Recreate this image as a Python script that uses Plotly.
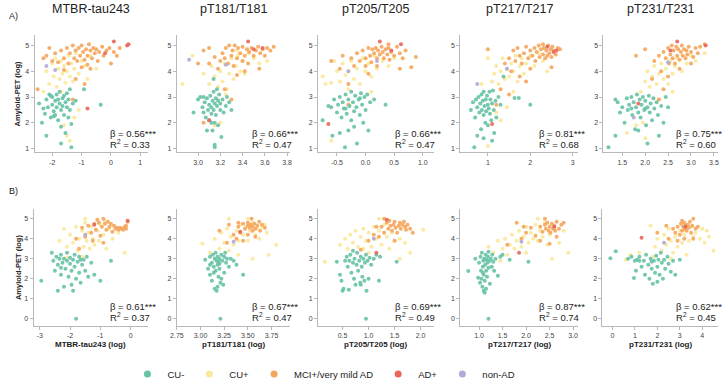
import plotly.graph_objects as go

W, H = 722, 389

groups = ["CU-", "CU+", "MCI+/very mild AD", "AD+", "non-AD"]
colors = ["#66c2a5", "#fbe89a", "#f4a55c", "#e8665a", "#b3a9d6"]

panel_titles = ["MTBR-tau243", "pT181/T181", "pT205/T205", "pT217/T217", "pT231/T231"]
xlabels_B = ["MTBR-tau243 (log)", "pT181/T181 (log)", "pT205/T205 (log)", "pT217/T217 (log)", "pT231/T231 (log)"]
beta_A = ["0.56", "0.66", "0.66", "0.81", "0.75"]
r2_A = ["0.33", "0.47", "0.47", "0.68", "0.60"]
beta_B = ["0.61", "0.67", "0.69", "0.87", "0.62"]
r2_B = ["0.37", "0.47", "0.49", "0.74", "0.45"]

# x tick values per panel
xticks_A = [[-2, -1, 0, 1], [3.0, 3.2, 3.4, 3.6, 3.8], [-0.5, 0.0, 0.5, 1.0], [1, 2, 3], [1.5, 2.0, 2.5, 3.0, 3.5]]
xticktext_A = [["-2", "-1", "0", "1"], ["3.0", "3.2", "3.4", "3.6", "3.8"], ["-0.5", "0.0", "0.5", "1.0"],
               ["1", "2", "3"], ["1.5", "2.0", "2.5", "3.0", "3.5"]]
xticks_B = [[-3, -2, -1, 0], [2.75, 3.0, 3.25, 3.5, 3.75], [0.5, 1.0, 1.5, 2.0], [1.0, 1.5, 2.0, 2.5, 3.0], [0, 1, 2, 3, 4]]
xticktext_B = [["-3", "-2", "-1", "0"], ["2.75", "3.00", "3.25", "3.50", "3.75"], ["0.5", "1.0", "1.5", "2.0"],
               ["1.0", "1.5", "2.0", "2.5", "3.0"], ["0", "1", "2", "3", "4"]]
xrange_A = [[-2.6, 1.27], [2.81, 3.83], [-0.83, 1.19], [0.35, 3.12], [1.09, 3.59]]
xrange_B = [[-3.2, 0.58], [2.75, 3.95], [0.03, 2.25], [0.6, 3.1], [-0.44, 4.7]]
yticks_A = [1, 2, 3, 4, 5]
yticks_B = [0, 1, 2, 3, 4, 5]

# ---------------- Row A data (x, Amyloid-PET) ----------------
A1_cuneg = [(-2.45,2.75),(-2.35,2.0),(-2.3,2.55),(-2.25,2.35),(-2.2,2.9),(-2.15,2.6),(-2.1,3.1),(-2.05,2.2),(-2.0,2.7),(-2.0,3.0),(-1.95,2.45),(-1.9,2.85),(-1.9,2.3),(-1.85,3.1),(-1.85,2.6),(-1.8,2.9),(-1.8,2.1),(-1.75,2.75),(-1.75,3.2),(-1.7,2.5),(-1.7,1.85),(-1.65,2.95),(-1.65,2.65),(-1.6,3.05),(-1.6,2.3),(-1.55,2.8),(-1.55,1.6),(-1.5,2.6),(-1.5,3.15),(-1.45,2.9),(-1.45,2.2),(-1.4,2.5),(-1.4,3.3),(-1.35,1.95),(-1.3,2.75),(-2.2,1.5),(-1.7,1.2),(-1.35,1.05),(-0.92,3.3),(-0.35,2.7),(-1.2,2.85),(-2.05,3.05),(-1.95,2.25)]
A1_cupos = [(-2.2,4.0),(-2.1,3.5),(-2.0,4.3),(-1.95,3.8),(-1.9,4.5),(-1.85,3.4),(-1.8,4.1),(-1.75,3.7),(-1.7,4.4),(-1.65,3.9),(-1.6,4.2),(-1.55,3.55),(-1.5,4.0),(-1.45,4.6),(-1.4,3.8),(-1.35,4.3),(-1.3,3.6),(-1.25,4.1),(-1.2,4.7),(-1.1,3.9),(-1.0,4.4),(-0.9,4.2),(-0.8,3.7),(-1.6,1.9),(-1.5,1.5),(-1.4,1.3),(-1.25,2.2),(-1.1,2.5),(-0.7,4.6),(-0.5,4.1),(-2.3,3.2),(-1.7,3.2)]
A1_mci = [(-2.2,4.6),(-2.1,4.9),(-2.0,4.4),(-1.9,4.7),(-1.8,4.35),(-1.7,4.8),(-1.6,4.5),(-1.5,4.9),(-1.45,4.3),(-1.4,4.7),(-1.3,5.0),(-1.25,4.5),(-1.2,4.8),(-1.15,4.4),(-1.1,4.9),(-1.05,4.6),(-1.0,5.0),(-0.95,4.75),(-0.9,4.45),(-0.85,4.85),(-0.8,4.6),(-0.75,5.05),(-0.7,4.8),(-0.65,4.5),(-0.6,4.9),(-0.55,4.7),(-0.5,4.85),(-0.45,4.4),(-0.4,4.75),(-0.3,4.95),(-0.25,4.6),(-0.15,4.8),(-0.05,4.9),(0.1,4.75),(0.2,4.6),(0.3,4.9),(-1.0,4.15),(-0.8,4.25),(-2.5,3.3),(-1.3,2.9),(-1.2,3.7),(-0.9,3.5),(-1.6,4.05),(-0.7,4.1),(-2.3,4.5),(0.0,4.3)]
A1_ad = [(0.1,5.15),(0.55,5.0),(-0.2,4.7),(0.6,5.05),(-0.8,2.55)]
A1_non = [(-1.9,4.05),(-2.2,4.2)]

A2_cuneg = [(3.0,2.9),(3.02,3.0),(3.04,2.6),(3.05,2.4),(3.06,2.8),(3.07,2.2),(3.08,2.95),(3.09,2.5),(3.1,2.7),(3.1,2.1),(3.11,3.05),(3.12,2.6),(3.12,2.35),(3.13,2.85),(3.13,1.7),(3.14,3.2),(3.14,2.5),(3.15,2.75),(3.15,2.0),(3.15,1.15),(3.15,1.05),(3.16,2.95),(3.16,2.3),(3.17,3.3),(3.17,2.65),(3.18,2.85),(3.18,1.9),(3.19,3.1),(3.2,2.5),(3.2,2.75),(3.21,1.45),(3.22,2.9),(3.23,2.4),(3.25,2.65),(3.26,3.0),(3.28,2.8),(3.3,2.5),(3.12,2.0),(3.08,1.7),(2.96,2.4),(3.14,3.7),(3.05,3.0)]
A2_cupos = [(2.86,3.5),(2.95,4.6),(3.05,3.9),(3.1,3.5),(3.12,4.2),(3.15,3.8),(3.18,3.4),(3.2,4.0),(3.22,3.6),(3.24,4.3),(3.26,3.3),(3.28,3.9),(3.3,4.5),(3.32,3.7),(3.34,4.2),(3.36,4.6),(3.38,4.0),(3.4,4.4),(3.42,3.9),(3.45,4.7),(3.5,4.5),(3.55,4.3),(3.62,4.4),(3.2,2.0),(3.25,3.1),(3.15,1.9),(3.18,2.9),(3.35,4.8)]
A2_mci = [(3.0,4.3),(3.05,4.8),(3.1,4.3),(3.15,4.55),(3.18,4.1),(3.2,4.4),(3.22,4.7),(3.24,4.5),(3.25,4.9),(3.27,4.3),(3.28,5.0),(3.3,4.6),(3.31,4.8),(3.32,4.2),(3.33,5.0),(3.35,4.5),(3.36,4.9),(3.38,4.7),(3.4,4.4),(3.4,4.95),(3.42,4.6),(3.44,4.85),(3.45,4.3),(3.46,4.75),(3.48,4.9),(3.5,4.6),(3.52,4.8),(3.54,4.95),(3.56,4.7),(3.58,4.85),(3.6,4.6),(3.62,4.9),(3.65,4.8),(3.68,4.95),(3.55,4.1),(3.35,3.85),(3.3,2.9),(3.05,2.0),(3.24,3.3),(3.42,4.0),(3.1,4.9)]
A2_ad = [(3.45,5.15),(3.5,4.85),(3.1,2.1),(3.58,4.9)]
A2_non = [(2.92,4.45),(3.25,4.25)]

A3_cuneg = [(-0.75,2.1),(-0.65,2.65),(-0.6,2.6),(-0.58,1.5),(-0.55,2.9),(-0.5,2.4),(-0.48,2.7),(-0.45,3.0),(-0.42,2.2),(-0.4,2.8),(-0.38,2.55),(-0.36,1.05),(-0.35,3.1),(-0.33,2.35),(-0.3,2.9),(-0.3,1.7),(-0.28,2.65),(-0.25,3.2),(-0.25,2.1),(-0.22,2.8),(-0.2,2.45),(-0.18,3.05),(-0.16,2.6),(-0.15,1.2),(-0.12,2.9),(-0.1,2.3),(-0.08,3.15),(-0.06,2.7),(-0.04,2.0),(-0.02,3.0),(0.0,2.5),(0.03,3.1),(0.05,1.7),(0.08,2.8),(0.15,2.9),(0.35,2.7),(-0.45,1.6),(-0.2,1.85),(-0.1,2.95),(-0.35,2.55)]
A3_cupos = [(-0.75,3.8),(-0.7,3.5),(-0.6,3.55),(-0.5,4.0),(-0.45,3.6),(-0.4,4.3),(-0.35,3.85),(-0.3,4.0),(-0.25,4.4),(-0.2,3.7),(-0.15,4.1),(-0.1,3.5),(-0.05,4.5),(0.0,4.0),(0.05,4.3),(0.1,3.8),(0.15,4.6),(0.2,4.1),(0.3,4.4),(0.4,4.2),(0.5,4.5),(-0.6,1.3),(-0.3,3.3),(0.1,3.2),(-0.55,4.4)]
A3_mci = [(-0.6,4.4),(-0.4,4.6),(-0.3,3.5),(-0.25,4.5),(-0.2,4.2),(-0.15,4.7),(-0.1,4.4),(-0.05,4.8),(0.0,4.5),(0.0,4.2),(0.05,4.9),(0.08,4.6),(0.1,4.35),(0.12,4.85),(0.15,4.7),(0.18,4.9),(0.2,4.5),(0.22,4.8),(0.25,4.65),(0.28,4.95),(0.3,4.75),(0.32,4.5),(0.35,4.85),(0.38,4.65),(0.4,4.9),(0.42,4.45),(0.45,4.75),(0.5,4.6),(0.55,4.95),(0.6,4.7),(0.65,4.5),(0.7,4.8),(0.8,4.15),(0.88,4.55),(0.6,4.1),(-0.3,2.7),(0.05,3.9),(0.2,4.2),(-0.45,4.1),(0.4,5.05)]
A3_ad = [(0.25,5.15),(0.62,5.05),(0.45,4.8),(-0.65,1.95)]
A3_non = [(-0.3,4.0),(0.2,4.4)]

A4_cuneg = [(0.6,2.5),(0.65,2.8),(0.68,1.05),(0.7,2.2),(0.72,2.9),(0.75,2.6),(0.75,1.5),(0.78,3.0),(0.8,2.4),(0.82,2.75),(0.84,1.75),(0.85,3.1),(0.86,2.5),(0.88,2.85),(0.9,2.3),(0.9,3.2),(0.92,2.65),(0.94,2.0),(0.95,2.9),(0.96,2.45),(0.98,3.05),(1.0,2.7),(1.0,1.9),(1.02,2.55),(1.04,3.2),(1.05,2.35),(1.06,2.9),(1.08,2.1),(1.1,2.75),(1.12,3.25),(1.14,2.5),(1.15,1.6),(1.18,2.85),(1.2,2.2),(1.25,3.0),(1.3,2.7),(1.37,3.8),(1.63,2.96),(1.73,2.96),(2.0,2.7),(0.9,1.4),(1.1,1.3)]
A4_cupos = [(0.85,3.5),(1.0,4.5),(1.1,3.6),(1.15,3.9),(1.2,4.2),(1.25,3.5),(1.3,4.0),(1.35,4.5),(1.4,3.7),(1.45,4.1),(1.5,3.8),(1.55,4.3),(1.6,4.0),(1.65,4.6),(1.7,3.6),(1.75,4.2),(1.8,4.5),(1.85,3.9),(1.9,4.3),(2.0,4.6),(2.1,4.2),(2.2,4.7),(2.3,4.4),(1.2,2.4),(1.3,2.1),(1.0,1.1),(1.6,3.2),(1.45,2.6),(2.4,4.0)]
A4_mci = [(1.0,4.85),(1.2,2.7),(1.3,3.3),(1.4,4.3),(1.5,4.5),(1.55,4.0),(1.6,4.8),(1.65,4.4),(1.7,4.9),(1.75,4.6),(1.8,4.3),(1.85,4.7),(1.9,4.95),(1.95,4.5),(2.0,4.8),(2.05,4.6),(2.1,4.9),(2.12,4.4),(2.15,4.75),(2.2,5.0),(2.22,4.55),(2.25,4.85),(2.3,4.65),(2.32,4.9),(2.35,4.5),(2.38,4.8),(2.4,4.6),(2.42,5.0),(2.45,4.7),(2.48,4.85),(2.5,4.55),(2.52,4.95),(2.55,4.8),(2.6,4.65),(2.65,4.9),(2.7,4.85),(2.5,4.15),(2.0,4.1),(1.75,3.8),(1.9,3.6),(1.5,3.1),(2.3,5.05)]
A4_ad = [(2.4,4.95),(2.55,4.75),(2.62,4.8),(1.1,1.95)]
A4_non = [(0.75,3.5),(1.45,4.1)]

A5_cuneg = [(1.2,1.05),(1.35,1.5),(1.35,2.9),(1.4,2.8),(1.45,2.4),(1.5,2.6),(1.55,2.0),(1.6,2.95),(1.62,2.5),(1.65,2.7),(1.7,3.0),(1.72,2.3),(1.75,2.8),(1.78,1.75),(1.8,2.6),(1.82,3.1),(1.85,2.4),(1.88,2.9),(1.9,2.2),(1.92,2.7),(1.95,3.0),(1.98,2.5),(2.0,2.85),(2.02,1.9),(2.05,2.6),(2.05,1.2),(2.08,3.05),(2.1,2.4),(2.12,2.75),(2.15,2.1),(2.18,2.95),(2.2,2.55),(2.25,2.8),(2.28,2.3),(2.3,1.5),(2.35,2.65),(2.4,2.0),(2.45,3.0),(2.5,2.6),(1.85,1.7),(2.0,2.55),(1.7,2.55)]
A5_cupos = [(1.6,1.6),(1.8,1.9),(1.9,3.2),(2.0,3.6),(2.05,4.0),(2.1,3.4),(2.15,3.8),(2.2,4.2),(2.25,3.5),(2.3,3.9),(2.35,4.3),(2.4,3.7),(2.45,4.1),(2.5,3.5),(2.55,4.4),(2.6,3.9),(2.65,4.2),(2.7,4.5),(2.8,4.0),(2.9,4.3),(3.0,4.6),(3.1,4.4),(3.3,4.7),(2.0,1.4),(2.3,2.9),(2.6,3.2),(1.95,2.0)]
A5_mci = [(1.8,4.6),(2.0,4.85),(2.2,4.4),(2.3,4.6),(2.35,4.0),(2.4,4.75),(2.45,4.5),(2.5,4.9),(2.52,4.3),(2.55,4.65),(2.58,5.0),(2.6,4.5),(2.62,4.8),(2.65,4.3),(2.68,4.95),(2.7,4.6),(2.72,4.85),(2.75,4.45),(2.78,4.75),(2.8,5.0),(2.82,4.6),(2.85,4.85),(2.88,4.5),(2.9,4.8),(2.92,4.65),(2.95,4.95),(3.0,4.75),(3.05,4.55),(3.1,4.9),(3.15,4.7),(3.2,4.95),(2.4,3.3),(2.3,2.9),(2.5,3.8),(2.75,4.1),(3.0,4.3),(2.15,3.7),(3.3,5.05)]
A5_ad = [(2.7,5.15),(3.32,5.0),(1.85,2.75),(2.55,4.8)]
A5_non = [(2.5,4.35),(1.75,2.2)]

# ---------------- Row B data ----------------
B1_cuneg = [(-2.95,1.9),(-2.6,3.3),(-2.55,2.9),(-2.5,2.4),(-2.45,3.1),(-2.4,1.4),(-2.4,2.7),(-2.35,3.0),(-2.3,2.2),(-2.3,3.2),(-2.25,2.8),(-2.2,1.6),(-2.2,3.0),(-2.15,2.5),(-2.1,2.9),(-2.1,3.3),(-2.05,2.1),(-2.0,2.75),(-2.0,3.05),(-1.95,2.4),(-1.95,1.7),(-1.9,2.95),(-1.9,1.4),(-1.85,2.6),(-1.85,3.2),(-1.8,2.0),(-1.8,0.0),(-1.75,2.85),(-1.7,2.3),(-1.7,3.1),(-1.65,1.8),(-1.6,2.7),(-1.55,2.95),(-1.5,2.4),(-1.45,3.1),(-1.4,2.1),(-1.3,2.8),(-1.2,2.2),(-1.0,1.9),(-0.65,2.9),(-2.3,2.55),(-1.65,2.95)]
B1_cupos = [(-2.35,3.9),(-2.2,4.5),(-2.1,3.6),(-2.0,4.2),(-1.9,3.8),(-1.8,4.6),(-1.75,3.4),(-1.7,4.0),(-1.6,4.4),(-1.55,3.6),(-1.5,4.8),(-1.45,3.9),(-1.4,4.3),(-1.35,3.5),(-1.3,4.6),(-1.25,4.0),(-1.2,3.7),(-1.1,4.4),(-1.05,3.9),(-1.0,4.7),(-0.9,4.2),(-0.8,3.5),(-0.7,4.5),(-0.6,4.0),(-0.4,4.3),(-0.2,3.3),(-1.6,3.1),(-1.5,5.0),(-0.85,4.9),(-2.1,3.05)]
B1_mci = [(-1.8,4.0),(-1.6,4.55),(-1.5,4.1),(-1.4,4.65),(-1.3,4.3),(-1.2,4.75),(-1.15,4.45),(-1.05,4.8),(-1.0,4.15),(-0.95,4.6),(-0.9,5.0),(-0.85,4.75),(-0.8,4.45),(-0.75,4.85),(-0.7,4.6),(-0.65,4.75),(-0.6,4.35),(-0.55,4.65),(-0.5,4.5),(-0.45,4.55),(-0.4,4.45),(-0.35,4.55),(-0.3,4.5),(-0.25,4.45),(-0.2,4.6),(-0.15,4.5),(-0.1,4.85),(-0.15,4.65),(-1.25,3.9),(-0.9,3.8),(-1.1,4.95),(-1.7,3.5)]
B1_ad = [(-1.2,4.7),(-0.1,4.9)]
B1_non = [(-1.5,4.2)]

B2_cuneg = [(3.05,2.95),(3.08,2.5),(3.1,3.1),(3.1,2.2),(3.12,2.8),(3.12,1.9),(3.13,3.2),(3.14,2.6),(3.15,3.0),(3.15,1.5),(3.16,2.4),(3.16,3.3),(3.17,2.9),(3.17,1.4),(3.18,2.7),(3.18,3.1),(3.19,2.1),(3.19,2.85),(3.2,3.0),(3.2,2.5),(3.21,1.8),(3.21,0.0),(3.22,3.2),(3.22,2.0),(3.23,2.9),(3.24,1.7),(3.25,3.1),(3.25,2.3),(3.27,2.8),(3.28,3.0),(3.3,2.6),(3.32,3.0),(3.35,2.9),(3.38,2.7),(3.45,2.2),(3.14,2.3),(3.2,2.75),(3.18,1.6),(3.26,3.3),(3.1,2.7)]
B2_cupos = [(3.02,3.76),(3.1,3.3),(3.15,4.0),(3.2,3.5),(3.22,4.3),(3.25,3.8),(3.28,4.5),(3.3,3.4),(3.32,4.1),(3.35,3.7),(3.38,4.4),(3.4,3.9),(3.42,4.7),(3.45,4.2),(3.48,4.6),(3.5,3.9),(3.52,4.4),(3.55,4.8),(3.58,4.2),(3.6,4.5),(3.62,4.0),(3.65,4.6),(3.7,4.3),(3.72,3.2),(3.8,3.7),(3.55,3.0),(3.4,3.2),(3.3,5.0),(3.5,5.0),(3.68,4.7)]
B2_mci = [(3.2,4.4),(3.3,4.7),(3.35,4.2),(3.38,4.0),(3.4,4.6),(3.42,4.3),(3.45,4.75),(3.47,4.5),(3.5,4.65),(3.5,4.8),(3.52,4.55),(3.53,4.7),(3.54,5.0),(3.55,4.6),(3.55,4.4),(3.57,4.75),(3.58,4.5),(3.6,4.65),(3.62,4.85),(3.63,4.4),(3.65,4.7),(3.68,4.55),(3.45,3.9),(3.5,4.2),(3.28,3.8),(3.58,4.1),(3.4,4.8)]
B2_ad = [(3.42,4.35)]
B2_non = [(3.35,3.85)]

B3_cuneg = [(0.39,2.85),(0.45,2.2),(0.48,1.9),(0.5,1.4),(0.52,1.5),(0.55,2.9),(0.58,3.1),(0.6,2.6),(0.62,1.45),(0.63,2.9),(0.65,3.2),(0.67,2.3),(0.7,2.8),(0.72,2.0),(0.73,3.0),(0.75,1.7),(0.77,2.7),(0.78,3.3),(0.8,2.4),(0.82,2.9),(0.84,1.8),(0.85,3.1),(0.87,2.6),(0.88,2.1),(0.9,3.0),(0.92,1.9),(0.93,2.8),(0.95,0.0),(0.95,3.2),(0.96,1.4),(0.98,2.9),(1.0,2.0),(1.02,3.05),(1.05,2.7),(1.1,3.0),(1.15,3.2),(1.2,1.9),(1.22,3.1),(1.54,2.85),(0.7,3.4),(0.85,1.7)]
B3_cupos = [(0.16,2.85),(0.45,3.7),(0.55,4.0),(0.6,3.5),(0.65,4.2),(0.7,3.8),(0.75,4.4),(0.8,3.6),(0.85,4.1),(0.9,4.5),(0.95,3.9),(1.0,4.3),(1.05,3.6),(1.1,4.6),(1.15,4.0),(1.2,4.4),(1.25,3.7),(1.3,4.7),(1.35,4.1),(1.4,3.5),(1.45,4.3),(1.5,3.9),(1.6,4.0),(1.7,3.8),(1.8,3.3),(2.05,4.45),(1.6,3.0),(1.0,3.3),(1.2,5.0),(0.9,3.5)]
B3_mci = [(1.0,3.9),(1.1,4.2),(1.2,4.1),(1.25,4.6),(1.3,4.3),(1.35,4.8),(1.38,4.5),(1.4,4.9),(1.42,4.65),(1.45,4.4),(1.48,4.7),(1.5,4.85),(1.52,4.55),(1.55,4.3),(1.58,4.65),(1.6,4.8),(1.62,4.5),(1.65,4.7),(1.68,4.85),(1.7,4.6),(1.72,4.45),(1.75,4.7),(1.8,4.5),(1.85,4.3),(1.5,3.9),(0.85,3.45),(1.3,5.0),(1.15,4.6)]
B3_ad = [(1.35,4.95),(1.15,3.3)]
B3_non = [(1.1,4.0)]

B4_cuneg = [(0.77,2.38),(0.92,3.0),(0.98,2.05),(1.0,2.8),(1.02,1.8),(1.03,3.1),(1.04,2.4),(1.05,2.0),(1.06,3.3),(1.07,1.6),(1.08,2.6),(1.09,2.9),(1.1,1.4),(1.1,2.2),(1.11,3.0),(1.12,1.9),(1.13,2.7),(1.14,3.2),(1.15,1.5),(1.15,2.4),(1.16,2.95),(1.17,2.1),(1.18,2.8),(1.19,3.1),(1.2,0.0),(1.2,2.55),(1.22,2.9),(1.23,1.75),(1.25,3.0),(1.27,2.6),(1.28,3.2),(1.3,2.85),(1.32,2.4),(1.35,3.0),(1.4,2.15),(1.45,3.1),(1.5,3.2),(1.65,2.95),(2.05,2.85),(1.08,2.3),(1.12,1.3),(1.2,3.35)]
B4_cupos = [(1.2,3.6),(1.3,3.3),(1.4,3.9),(1.5,3.5),(1.55,4.0),(1.6,3.2),(1.65,3.7),(1.7,4.2),(1.75,3.5),(1.8,3.9),(1.85,4.4),(1.9,3.6),(1.95,4.1),(2.0,4.6),(2.05,3.8),(2.1,4.3),(2.15,4.0),(2.2,4.7),(2.25,3.9),(2.3,4.4),(2.35,4.1),(2.4,4.8),(2.45,3.7),(2.5,4.2),(2.6,4.6),(2.7,3.8),(2.8,4.4),(2.9,3.3),(2.55,3.0),(1.45,2.9),(2.25,5.0),(2.0,3.3)]
B4_mci = [(1.6,3.7),(1.8,4.8),(1.9,4.0),(2.0,4.3),(2.1,4.55),(2.2,4.15),(2.3,4.6),(2.35,4.35),(2.4,4.7),(2.42,4.5),(2.45,4.8),(2.48,4.4),(2.5,4.6),(2.52,4.3),(2.55,4.75),(2.57,4.5),(2.6,4.65),(2.62,4.4),(2.65,4.85),(2.7,4.5),(2.75,4.7),(2.8,4.8),(2.5,3.75),(2.65,4.1),(2.3,3.9),(1.95,4.6),(2.4,5.0)]
B4_ad = [(1.85,3.3),(2.6,4.6)]
B4_non = [(1.9,3.85)]

B5_cuneg = [(-0.09,3.02),(0.15,3.37),(0.7,3.0),(0.85,3.1),(0.96,2.03),(1.0,2.9),(1.05,2.4),(1.1,2.95),(1.2,3.1),(1.3,2.6),(1.4,2.9),(1.45,2.2),(1.5,3.2),(1.6,2.7),(1.65,2.0),(1.7,3.0),(1.75,2.5),(1.8,1.75),(1.85,2.9),(1.9,2.3),(1.95,3.15),(2.0,2.6),(2.0,1.85),(2.05,2.95),(2.1,2.2),(2.15,3.3),(2.2,2.8),(2.25,2.0),(2.3,2.95),(2.35,2.5),(2.45,3.1),(2.5,2.75),(2.6,2.35),(2.7,2.9),(2.8,2.2),(3.0,2.95),(1.2,2.9),(1.75,2.85)]
B5_cupos = [(0.6,2.95),(0.8,3.2),(1.2,3.3),(1.7,4.65),(1.9,3.6),(2.0,4.0),(2.2,3.4),(2.3,4.2),(2.4,3.7),(2.5,4.5),(2.6,3.9),(2.7,3.3),(2.8,4.1),(2.9,3.6),(3.0,4.4),(3.1,3.8),(3.2,4.2),(3.4,3.9),(3.5,4.6),(3.6,4.1),(3.7,4.3),(3.9,4.0),(4.0,4.5),(4.1,3.8),(4.3,4.1),(4.5,3.4),(4.2,4.4),(3.3,3.2),(2.6,3.0),(1.8,3.1)]
B5_mci = [(2.0,4.3),(2.5,4.0),(2.7,4.5),(2.8,4.3),(2.9,4.6),(3.0,4.2),(3.05,4.75),(3.1,4.4),(3.15,4.6),(3.2,4.8),(3.22,4.5),(3.25,4.65),(3.3,4.4),(3.35,4.7),(3.4,4.55),(3.45,4.85),(3.5,4.3),(3.55,4.65),(3.6,5.0),(3.7,4.5),(3.8,4.6),(2.9,3.9),(3.2,4.0),(2.4,4.65),(3.1,4.9),(3.6,4.0)]
B5_ad = [(1.3,4.05),(3.25,4.6)]
B5_non = [(2.3,3.8)]

rowA = [[A1_cuneg, A1_cupos, A1_mci, A1_ad, A1_non],
        [A2_cuneg, A2_cupos, A2_mci, A2_ad, A2_non],
        [A3_cuneg, A3_cupos, A3_mci, A3_ad, A3_non],
        [A4_cuneg, A4_cupos, A4_mci, A4_ad, A4_non],
        [A5_cuneg, A5_cupos, A5_mci, A5_ad, A5_non]]
rowB = [[B1_cuneg, B1_cupos, B1_mci, B1_ad, B1_non],
        [B2_cuneg, B2_cupos, B2_mci, B2_ad, B2_non],
        [B3_cuneg, B3_cupos, B3_mci, B3_ad, B3_non],
        [B4_cuneg, B4_cupos, B4_mci, B4_ad, B4_non],
        [B5_cuneg, B5_cupos, B5_mci, B5_ad, B5_non]]

# ---------------- layout geometry (pixels) ----------------
xdom_A = [(28, 143), (172, 287), (315, 432), (459, 578), (604, 720)]
xdom_B = [(27, 143), (172, 287), (315, 432), (459, 578), (603, 720)]
ydom_A = (35, 154)
ydom_B = (211, 329)

FONT = "Liberation Sans, Arial, sans-serif"
fig = go.Figure()
layout = {}
annotations = []
draw_order = [1, 2, 0, 3, 4]

def ax_name(prefix, n):
    return prefix if n == 1 else f"{prefix}{n}"

for r, (rowdata, xdoms, ydom, xr, xt, xtt, yt, betas, r2s) in enumerate([
        (rowA, xdom_A, ydom_A, xrange_A, xticks_A, xticktext_A, yticks_A, beta_A, r2_A),
        (rowB, xdom_B, ydom_B, xrange_B, xticks_B, xticktext_B, yticks_B, beta_B, r2_B)]):
    for i in range(5):
        n = r * 5 + i + 1
        xa, ya = ax_name("x", n), ax_name("y", n)
        for g in draw_order:
            pts = rowdata[i][g]
            fig.add_trace(go.Scatter(
                x=[p[0] for p in pts], y=[p[1] for p in pts], mode="markers",
                marker=dict(color=colors[g], size=4, opacity=0.9, line=dict(width=0)),
                xaxis=xa, yaxis=ya, showlegend=False, hoverinfo="skip"))
        l, rr = xdoms[i]
        layout[ax_name("xaxis", n)] = dict(
            domain=[l / W, rr / W], anchor=ya, range=xr[i], tickvals=xt[i], ticktext=xtt[i],
            showline=True, linecolor="#b8b8b8", linewidth=1, showgrid=False, zeroline=False,
            ticks="outside", ticklen=3, tickcolor="#b8b8b8",
            tickfont=dict(size=7, color="#444", family=FONT))
        layout[ax_name("yaxis", n)] = dict(
            domain=[1 - ydom[1] / H, 1 - ydom[0] / H], anchor=xa,
            range=[0.85, 5.42] if r == 0 else [-0.35, 5.5], tickvals=yt,
            showline=True, linecolor="#b8b8b8", linewidth=1, showgrid=False, zeroline=False,
            ticks="outside", ticklen=3, tickcolor="#b8b8b8",
            tickfont=dict(size=7, color="#444", family=FONT))
        # stats
        yb, yr2 = (135, 146) if r == 0 else (310, 320)
        x_left = rr - 41 if i < 4 else rr - 45
        annotations.append(dict(x=x_left / W, y=1 - yb / H, xref="paper", yref="paper",
                                xanchor="left", yanchor="middle", showarrow=False, align="left",
                                text=f"\u03b2 = {betas[i]}***", font=dict(size=9.5, color="#222", family=FONT)))
        annotations.append(dict(x=x_left / W, y=1 - yr2 / H, xref="paper", yref="paper",
                                xanchor="left", yanchor="middle", showarrow=False, align="left",
                                text=f"R<sup>2</sup> = {r2s[i]}", font=dict(size=9.5, color="#222", family=FONT)))
        if r == 0:
            annotations.append(dict(x=(l + rr) / 2 / W, y=1 - 9 / H, xref="paper", yref="paper",
                                    xanchor="center", yanchor="middle", showarrow=False,
                                    text=panel_titles[i], font=dict(size=12.5, color="#222", family=FONT)))
        else:
            annotations.append(dict(x=(l + rr) / 2 / W, y=1 - 348 / H, xref="paper", yref="paper",
                                    xanchor="center", yanchor="middle", showarrow=False,
                                    text=f"<b>{xlabels_B[i]}</b>", font=dict(size=8, color="#222", family=FONT)))
    annotations.append(dict(x=11 / W, y=1 - (ydom[0] + ydom[1]) / 2 / H, xref="paper", yref="paper",
                            xanchor="center", yanchor="middle", showarrow=False, textangle=-90,
                            text="<b>Amyloid-PET (log)</b>", font=dict(size=7.5, color="#222", family=FONT)))

annotations.append(dict(x=0, y=1 - 16 / H, xref="paper", yref="paper", xanchor="left", yanchor="middle",
                        showarrow=False, text="A)", font=dict(size=9, color="#222", family=FONT)))
annotations.append(dict(x=0, y=1 - 193 / H, xref="paper", yref="paper", xanchor="left", yanchor="middle",
                        showarrow=False, text="B)", font=dict(size=9, color="#222", family=FONT)))

# legend entries
for g in range(5):
    fig.add_trace(go.Scatter(x=[None], y=[None], mode="markers", name=groups[g],
                             marker=dict(color=colors[g], size=7), showlegend=True))

fig.update_layout(
    width=W, height=H, margin=dict(l=0, r=0, t=0, b=0),
    paper_bgcolor="white", plot_bgcolor="white",
    font=dict(family=FONT, color="#222"),
    annotations=annotations,
    legend=dict(orientation="h", x=122 / W, y=1 - 378 / H, xanchor="left", yanchor="middle",
                font=dict(size=9.5, color="#222", family=FONT), bgcolor="rgba(0,0,0,0)"),
    **layout)

fig.write_html("out.html", config={"displayModeBar": False},
               post_script="document.body.style.margin='0px';document.body.style.overflow='hidden';")
